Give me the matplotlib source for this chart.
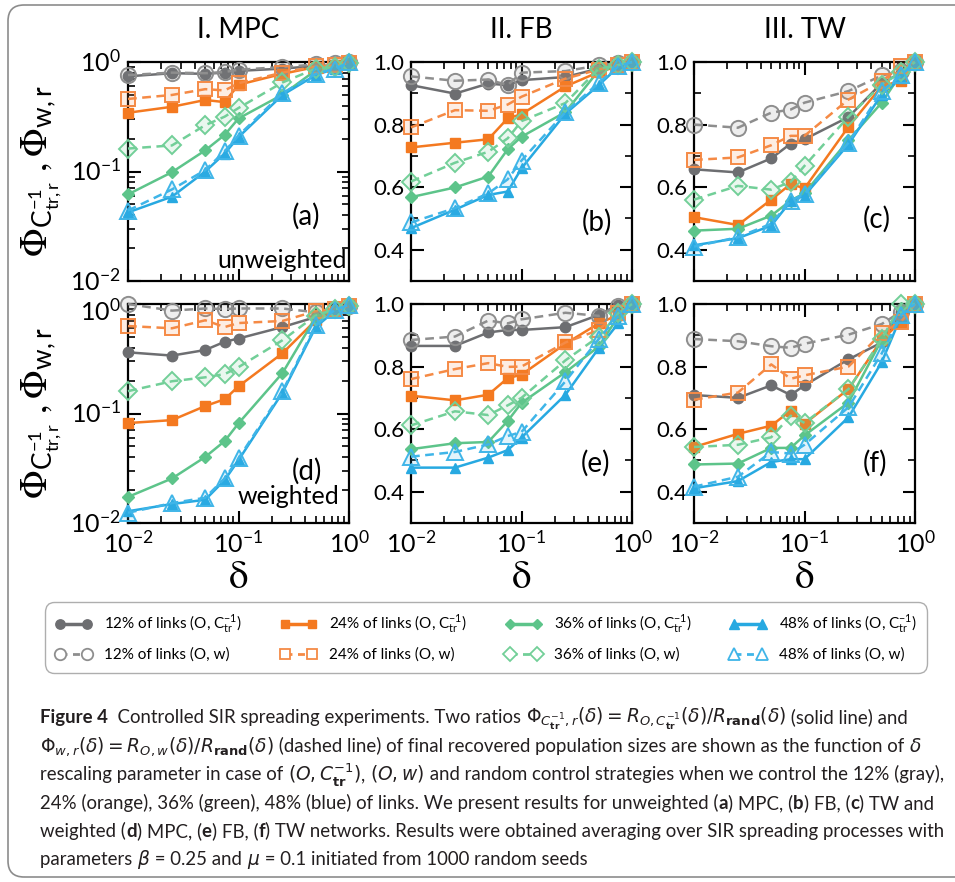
import matplotlib
matplotlib.use("Agg")
import matplotlib.pyplot as plt
import matplotlib.ticker as mticker
from matplotlib.lines import Line2D
from matplotlib.patches import FancyBboxPatch
from matplotlib.colors import to_rgba
from matplotlib.transforms import IdentityTransform, ScaledTranslation

plt.rcParams['font.family'] = ['Lato', 'DejaVu Sans']

# ---- data ------------------------------------------------------------------
delta = [0.01, 0.025, 0.05, 0.075, 0.1, 0.25, 0.5, 0.75, 1.0]
link_shares = ['12%', '24%', '36%', '48%']
col_titles = ['I. MPC', 'II. FB', 'III. TW']
panel_tags = ['(a)', '(b)', '(c)', '(d)', '(e)', '(f)']

# rows: 12%, 24%, 36%, 48% of links; "_ctr" = (O, C_tr^-1), "_w" = (O, w)
a_ctr = [[0.74, 0.79, 0.78, 0.80, 0.83, 0.87, 0.92, 0.93, 0.97],
         [0.344, 0.39, 0.45, 0.43, 0.62, 0.78, 0.90, 0.93, 0.97],
         [0.0618, 0.0986, 0.156, 0.216, 0.305, 0.503, 0.84, 0.90, 0.97],
         [0.0423, 0.0589, 0.100, 0.146, 0.206, 0.50, 0.76, 0.87, 0.97]]
a_w = [[0.76, 0.80, 0.79, 0.81, 0.85, 0.90, 0.95, 0.97, 1.0],
       [0.46, 0.50, 0.565, 0.55, 0.64, 0.80, 0.91, 0.93, 0.98],
       [0.162, 0.173, 0.265, 0.317, 0.38, 0.65, 0.87, 0.90, 0.98],
       [0.044, 0.0686, 0.103, 0.153, 0.213, 0.52, 0.78, 0.87, 0.99]]

b_ctr = [[0.926, 0.899, 0.931, 0.926, 0.942, 0.952, 0.979, 0.995, 1.0],
         [0.727, 0.742, 0.753, 0.82, 0.833, 0.922, 0.968, 0.986, 1.0],
         [0.568, 0.599, 0.634, 0.721, 0.761, 0.84, 0.973, 0.986, 1.0],
         [0.469, 0.528, 0.575, 0.586, 0.66, 0.835, 0.926, 0.984, 1.0]]
b_w = [[0.954, 0.94, 0.944, 0.926, 0.966, 0.971, 0.989, 0.997, 1.0],
       [0.791, 0.846, 0.844, 0.864, 0.889, 0.947, 0.976, 0.99, 1.0],
       [0.618, 0.678, 0.713, 0.756, 0.811, 0.869, 0.979, 0.99, 1.0],
       [0.487, 0.533, 0.58, 0.625, 0.685, 0.84, 0.933, 0.986, 1.0]]

c_ctr = [[0.657, 0.647, 0.692, 0.739, 0.753, 0.824, 0.933, 0.965, 1.0],
         [0.504, 0.479, 0.56, 0.61, 0.596, 0.793, 0.923, 0.94, 1.0],
         [0.461, 0.467, 0.509, 0.557, 0.581, 0.75, 0.87, 0.963, 1.0],
         [0.414, 0.437, 0.477, 0.555, 0.573, 0.737, 0.896, 0.949, 1.0]]
c_w = [[0.80, 0.79, 0.838, 0.848, 0.87, 0.907, 0.957, 0.97, 1.0],
       [0.687, 0.695, 0.734, 0.764, 0.764, 0.88, 0.938, 0.988, 1.0],
       [0.56, 0.604, 0.592, 0.617, 0.668, 0.825, 0.928, 0.967, 1.0],
       [0.41, 0.44, 0.483, 0.557, 0.578, 0.742, 0.907, 0.957, 1.0]]

d_ctr = [[0.362, 0.338, 0.38, 0.452, 0.484, 0.616, 0.76, 0.89, 0.95],
         [0.0818, 0.087, 0.117, 0.135, 0.177, 0.355, 0.71, 0.87, 0.95],
         [0.0173, 0.0255, 0.0401, 0.056, 0.0813, 0.234, 0.76, 0.89, 0.95],
         [0.0128, 0.0149, 0.0163, 0.0247, 0.0375, 0.155, 0.616, 0.87, 0.96]]
d_w = [[1.0, 0.87, 0.91, 0.90, 0.91, 0.91, 0.84, 0.90, 0.95],
       [0.629, 0.60, 0.71, 0.616, 0.67, 0.70, 0.86, 0.90, 0.95],
       [0.16, 0.197, 0.214, 0.229, 0.265, 0.467, 0.785, 0.90, 0.95],
       [0.0124, 0.0152, 0.017, 0.0256, 0.0389, 0.16, 0.64, 0.89, 0.98]]

e_ctr = [[0.866, 0.866, 0.909, 0.917, 0.917, 0.926, 0.965, 0.997, 1.0],
         [0.707, 0.692, 0.71, 0.763, 0.774, 0.873, 0.938, 0.965, 1.0],
         [0.536, 0.555, 0.559, 0.626, 0.684, 0.782, 0.864, 0.96, 1.0],
         [0.477, 0.477, 0.509, 0.533, 0.573, 0.71, 0.859, 0.938, 1.0]]
e_w = [[0.885, 0.896, 0.947, 0.938, 0.951, 0.972, 0.962, 0.994, 1.0],
       [0.76, 0.792, 0.811, 0.799, 0.80, 0.877, 0.917, 0.972, 1.0],
       [0.612, 0.657, 0.645, 0.676, 0.70, 0.82, 0.896, 0.97, 1.0],
       [0.512, 0.527, 0.551, 0.578, 0.591, 0.753, 0.888, 0.962, 1.0]]

f_ctr = [[0.709, 0.70, 0.74, 0.709, 0.74, 0.823, 0.877, 0.976, 1.0],
         [0.543, 0.585, 0.611, 0.659, 0.617, 0.728, 0.886, 0.944, 1.0],
         [0.487, 0.49, 0.54, 0.54, 0.58, 0.685, 0.886, 0.986, 1.0],
         [0.411, 0.434, 0.495, 0.504, 0.504, 0.638, 0.814, 0.962, 1.0]]
f_w = [[0.888, 0.881, 0.865, 0.86, 0.873, 0.902, 0.936, 0.976, 1.0],
       [0.694, 0.717, 0.807, 0.761, 0.772, 0.80, 0.907, 0.944, 1.0],
       [0.543, 0.55, 0.574, 0.643, 0.62, 0.728, 0.888, 1.0, 1.0],
       [0.416, 0.448, 0.527, 0.522, 0.55, 0.67, 0.842, 0.965, 1.0]]

panels = [(a_ctr, a_w), (b_ctr, b_w), (c_ctr, c_w),
          (d_ctr, d_w), (e_ctr, e_w), (f_ctr, f_w)]

# ---- styles ----------------------------------------------------------------
solid_colors = ['#6d6e71', '#f47920', '#5dc48a', '#27a9e1']
open_colors = ['#8e8e8e', '#f58a45', '#72cf98', '#3fb5e8']
markers = ['o', 's', 'D', '^']
solid_ms = [7.5, 7.0, 6.0, 7.5]
open_ms = [11.0, 10.5, 9.0, 11.0]

W, H = 955, 882
fig = plt.figure(figsize=(W / 100, H / 100), dpi=100)

col_left = [128, 411, 694]
row_top = [62, 304]
ax_w, ax_h = 221, 219

tick_fs = 16


def px_rect(l, t, w, h):
    return [l / W, 1 - (t + h) / H, w / W, h / H]


axes = []
for r in range(2):
    for c in range(3):
        ax = fig.add_axes(px_rect(col_left[c], row_top[r], ax_w, ax_h))
        axes.append(ax)

log_labels = [r'$\mathdefault{10^{-2}}$', r'$\mathdefault{10^{-1}}$',
              r'$\mathdefault{10^{0}}$']

for i, ax in enumerate(axes):
    r, c = divmod(i, 3)
    ctr, wv = panels[i]
    for k in range(4):
        ax.plot(delta, ctr[k], '-', color=solid_colors[k], lw=1.8,
                marker=markers[k], ms=solid_ms[k], mfc=solid_colors[k],
                mec=solid_colors[k], clip_on=False, zorder=3)
    for k in range(4):
        ax.plot(delta, wv[k], '--', color=open_colors[k], lw=1.8,
                dashes=(3.5, 2.2), marker=markers[k], ms=open_ms[k],
                mfc=to_rgba(open_colors[k], 0.15), mec=open_colors[k],
                mew=1.4, clip_on=False, zorder=4)

    ax.set_xscale('log')
    ax.set_xlim(0.01, 1.0)
    ax.xaxis.set_major_locator(mticker.FixedLocator([0.01, 0.1, 1.0]))
    ax.xaxis.set_minor_locator(mticker.LogLocator(base=10, subs=range(2, 10)))
    if r == 1:
        ax.set_xticklabels(log_labels, fontsize=tick_fs + 2)
    else:
        ax.set_xticklabels([])
    ax.xaxis.set_minor_formatter(mticker.NullFormatter())

    if c == 0:
        ax.set_yscale('log')
        ax.set_ylim(0.01, 1.0)
        ax.yaxis.set_major_locator(mticker.FixedLocator([0.01, 0.1, 1.0]))
        ax.yaxis.set_minor_locator(mticker.LogLocator(base=10, subs=range(2, 10)))
        ax.set_yticklabels(log_labels, fontsize=tick_fs + 2)
        ax.yaxis.set_minor_formatter(mticker.NullFormatter())
        for lbl in ax.get_yticklabels():
            lbl.set_verticalalignment('center')
    else:
        ax.set_ylim(0.3, 1.0)
        ax.yaxis.set_major_locator(mticker.FixedLocator([0.4, 0.6, 0.8, 1.0]))
        ax.yaxis.set_minor_locator(mticker.FixedLocator([0.5, 0.7, 0.9]))
        ax.set_yticklabels(['0.4', '0.6', '0.8', '1.0'], fontsize=tick_fs)

    ax.tick_params(which='both', direction='in', top=True, right=True,
                   colors='black')
    ax.tick_params(which='major', length=9, width=1.5, pad=5)
    ax.tick_params(which='minor', length=5, width=1.2)
    for s in ax.spines.values():
        s.set_linewidth(1.6)
    ax.set_facecolor('none')

# nudge the top label of panel (d) down so it clears the bottom label of (a)
top_lbl = axes[3].get_yticklabels()[2]
top_lbl.set_transform(top_lbl.get_transform()
                      + ScaledTranslation(0, -5 / 72, fig.dpi_scale_trans))

# panel tags and network notes
tag_pos = [(0.805, 0.295), (0.84, 0.266), (0.827, 0.28),
           (0.81, 0.234), (0.835, 0.274), (0.82, 0.274)]
for ax, tag, (tx, ty) in zip(axes, panel_tags, tag_pos):
    ax.text(tx, ty, tag, transform=ax.transAxes, ha='center', va='center',
            fontsize=20, zorder=6)
axes[0].text(0.99, 0.095, 'unweighted', transform=axes[0].transAxes,
             ha='right', va='center', fontsize=18)
axes[3].text(0.955, 0.12, 'weighted', transform=axes[3].transAxes,
             ha='right', va='center', fontsize=18)

# column titles
for c, title in enumerate(col_titles):
    fig.text((col_left[c] + ax_w / 2) / W, 1 - 30 / H, title, ha='center',
             va='center', fontsize=20)

# y labels
ylab = (r'$\Phi_{\mathdefault{C}^{\mathdefault{-1}}_{\mathdefault{tr,r}}}'
        r'\ ,\Phi_{\mathdefault{w,r}}$')
for r in range(2):
    fig.text(42 / W, 1 - (row_top[r] + ax_h / 2) / H, ylab, rotation=90,
             ha='center', va='center', fontsize=27, math_fontfamily='stix')

# x labels
for c in range(3):
    fig.text((col_left[c] + ax_w / 2) / W, 1 - 577 / H, r'$\mathrm{\delta}$',
             ha='center', va='center', fontsize=28, math_fontfamily='stix')

# legend
handles, labels = [], []
for k in range(4):
    handles.append(Line2D([], [], color=solid_colors[k], lw=2.5,
                          marker=markers[k], ms=solid_ms[k] * 0.9,
                          mfc=solid_colors[k], mec=solid_colors[k]))
    labels.append(link_shares[k] + r' of links (O, $\mathdefault{C}_{\mathdefault{tr}}^{\mathdefault{-1}}$)')
    handles.append(Line2D([], [], color=open_colors[k], lw=2.0, ls='--',
                          dashes=(2.5, 2), marker=markers[k],
                          ms=open_ms[k] * 0.75, mfc='white',
                          mec=open_colors[k], mew=1.3))
    labels.append(link_shares[k] + ' of links (O, w)')

leg = fig.legend(handles, labels, ncol=4, loc='center',
                 bbox_to_anchor=(37 / W, 1 - 673 / H, 898 / W, 71 / H),
                 mode='expand', fontsize=11, numpoints=2, handlelength=2.4,
                 handletextpad=0.8, columnspacing=1.0, labelspacing=0.75,
                 borderpad=0.7, frameon=True, fancybox=True)
frame = leg.get_frame()
frame.set_edgecolor('#9a9a9a')
frame.set_linewidth(1.0)
frame.set_boxstyle('round', pad=0, rounding_size=0.6)

# outer rounded frame
outer = FancyBboxPatch((8, 5), 980, 872, boxstyle='round,pad=0,rounding_size=16',
                       transform=IdentityTransform(), fill=False,
                       edgecolor='#8c8c8c', lw=1.2, clip_on=False)
fig.patches.append(outer)

# caption
renderer = fig.canvas.get_renderer()
cap_fs = 13.4
cap_color = '#231f20'


def draw_line(x_px, y_px, segments):
    x = x_px
    for seg in segments:
        if isinstance(seg, tuple):
            s, weight = seg
        else:
            s, weight = seg, 'normal'
        t = fig.text(x / W, 1 - y_px / H, s, ha='left', va='baseline',
                     fontsize=cap_fs, fontweight=weight, color=cap_color)
        bb = t.get_window_extent(renderer)
        x = bb.x1


tr = r'\mathbf{tr}'
caption = [
    [("Figure 4", 'bold'), "  Controlled SIR spreading experiments. Two ratios ",
     r"$\Phi_{C_{%s}^{-1},r}(\delta)=R_{O,C_{%s}^{-1}}(\delta)/R_{\mathbf{rand}}(\delta)$" % (tr, tr),
     " (solid line) and"],
    [r"$\Phi_{w,r}(\delta)=R_{O,w}(\delta)/R_{\mathbf{rand}}(\delta)$",
     " (dashed line) of final recovered population sizes are shown as the function of ",
     r"$\delta$"],
    ["rescaling parameter in case of ", r"$(O,C_{%s}^{-1})$" % tr, ", ", r"$(O,w)$",
     " and random control strategies when we control the 12% (gray),"],
    ["24% (orange), 36% (green), 48% (blue) of links. We present results for unweighted (",
     ("a", 'bold'), ") MPC, (", ("b", 'bold'), ") FB, (", ("c", 'bold'), ") TW and"],
    ["weighted (", ("d", 'bold'), ") MPC, (", ("e", 'bold'), ") FB, (", ("f", 'bold'),
     ") TW networks. Results were obtained averaging over SIR spreading processes with"],
    ["parameters ", r"$\beta$", " = 0.25 and ", r"$\mu$",
     " = 0.1 initiated from 1000 random seeds"],
]
line_y = [723, 752, 780, 809, 837, 865]
for segs, y in zip(caption, line_y):
    draw_line(40, y, segs)

fig.savefig('out.png', dpi=100)
